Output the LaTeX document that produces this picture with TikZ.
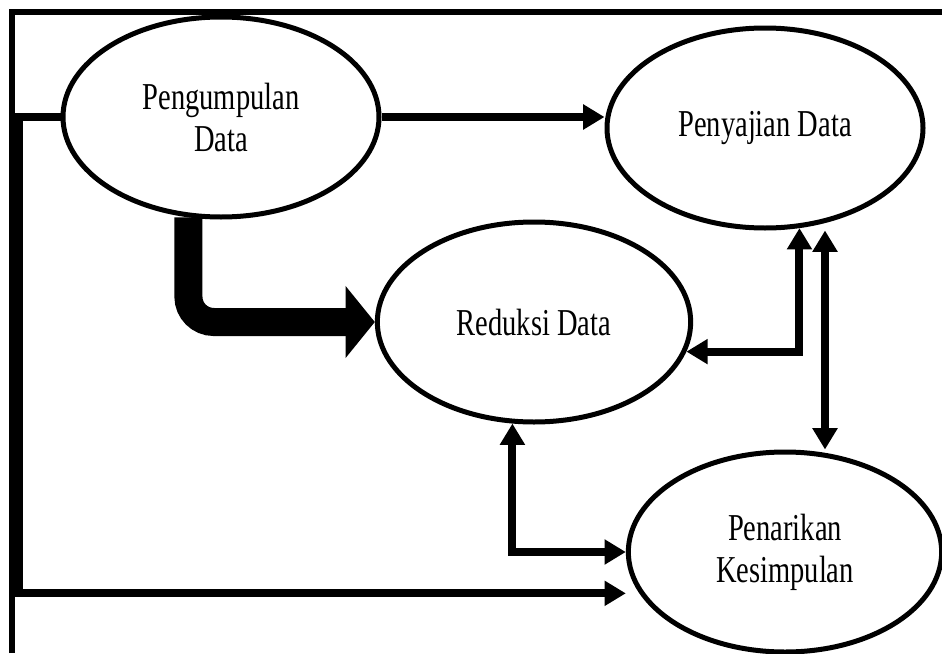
\documentclass[tikz,border=0pt]{standalone}
\usepackage{fontspec}
\usetikzlibrary{shapes.geometric,arrows.meta}
\newfontfamily\narrowserif[FakeStretch=0.75]{Liberation Serif}
\tikzset{
  tahap/.style={draw, ellipse, line width=3.75pt, fill=white, inner sep=0pt,
    minimum width=237pt, minimum height=150pt, align=center,
    font=\narrowserif\fontsize{28.5}{31.5}\selectfont},
  alur/.style={line width=6pt, -{Triangle[length=16pt,width=18pt]}},
  dua/.style={line width=6pt, {Triangle[length=16pt,width=18pt]}-{Triangle[length=16pt,width=18pt]}},
  tebal/.style={line width=21pt, rounded corners=19pt, -{Triangle[length=22pt,width=53pt]}}
}
\begin{document}
\begin{tikzpicture}[x=0.75pt, y=-0.75pt]
  \useasboundingbox (0,0) rectangle (942,653);
  \draw[line width=4.5pt] (12,653) -- (12,12) -- (942,12);
  \node[tahap] (pgd) at (221,117) {Pengumpulan\\Data};
  \node[tahap] (pyd) at (765,128) {Penyajian Data};
  \node[tahap, minimum width=235pt] (rd) at (534,322) {Reduksi Data};
  \node[tahap, minimum width=235pt] (pn) at (785,552) {Penarikan\\Kesimpulan};
  \coordinate (kiri) at (19,593);
  \draw[alur] (pgd.east) -- (pgd.east -| pyd.west);
  \draw[tebal] (pgd.252) |- (rd.west);
  \draw[dua] (rd.-11) -| (pyd.289);
  \draw[dua] ([xshift=45pt]pyd.south) -- ([xshift=30pt]pn.north);
  \draw[dua] (rd.258) |- (pn.west);
  \draw[alur] (pgd.west) -| (kiri) |- ([yshift=-31pt]pn.west);
\end{tikzpicture}
\end{document}
